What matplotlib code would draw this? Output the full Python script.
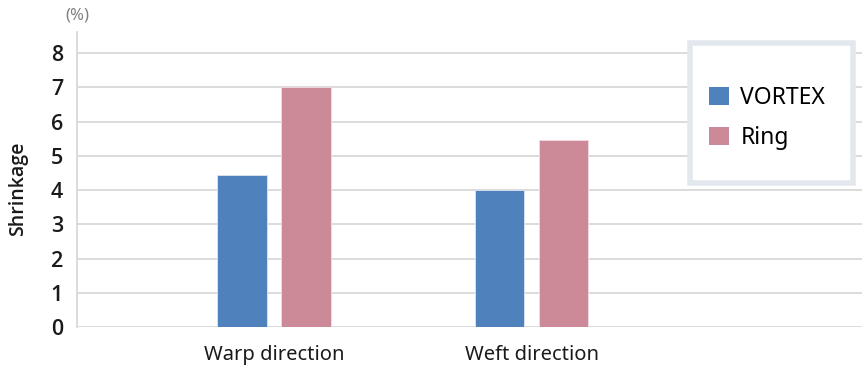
import matplotlib
matplotlib.use("Agg")
import matplotlib.pyplot as plt
from matplotlib.patches import Rectangle, Patch

plt.rcParams['font.family'] = ['Noto Sans', 'DejaVu Sans']

categories = ["Warp direction", "Weft direction"]
vortex = [4.43, 4.0]
ring = [7.0, 5.45]
series_names = ["VORTEX", "Ring"]
colors = ["#4f81bd", "#cc8a99"]

fig = plt.figure(figsize=(8.64, 3.71), dpi=100)
ax = fig.add_axes([77/864, 44/371, 785/864, 295/371])

x = list(range(len(categories)))
w = 0.192
off = 0.1235
ax.bar([i - off for i in x], vortex, width=w, color=colors[0], edgecolor="#dfe6f2", linewidth=0.6, zorder=3)
ax.bar([i + off for i in x], ring, width=w, color=colors[1], edgecolor="#f0dde2", linewidth=0.6, zorder=3)

ax.set_xlim(-0.765, 2.283)
ax.set_ylim(0, 8.62)
ax.set_yticks(range(0, 9))
ax.set_xticks(x)
ax.set_xticklabels(categories, fontsize=14.5, color="#1a1a1a")
ax.tick_params(axis="y", length=0, pad=10, labelcolor="#1a1a1a")
for t in ax.get_yticklabels():
    t.set_fontsize(15.5)
    t.set_family(["Open Sans", "DejaVu Sans"])
    t.set_fontweight("semibold")
ax.tick_params(axis="x", length=0, pad=13)
ax.grid(axis="y", color="#d9d9d9", linewidth=1.3, zorder=0)
for s in ["top", "right", "bottom"]:
    ax.spines[s].set_visible(False)
ax.spines["left"].set_color("#d9d9d9")
ax.spines["left"].set_linewidth(1.3)

fig.text(18/864, 1 - 189/371, "Shrinkage", rotation=90, ha="center", va="center",
         fontsize=14, family=["Open Sans", "DejaVu Sans"], fontweight="semibold",
         color="#1a1a1a")
fig.text(77/864, 1 - 15/371, "(%)", ha="center", va="center", fontsize=12, color="#808080")

# legend frame
fig.patches.append(Rectangle((690/864, 1 - 183/371), 163/864, 140/371,
                             transform=fig.transFigure, facecolor="white",
                             edgecolor="#e3e7ee", linewidth=4.0, zorder=5))
handles = [Patch(facecolor=c, edgecolor="none") for c in colors]
leg = fig.legend(handles, series_names, loc="center left",
                 bbox_to_anchor=(698/864, 1 - 118/371), frameon=False,
                 fontsize=16.5, handlelength=0.85, handleheight=0.8,
                 handletextpad=0.5, labelspacing=0.7, borderpad=0)
leg.set_zorder(6)

fig.savefig("out.png", dpi=100)
